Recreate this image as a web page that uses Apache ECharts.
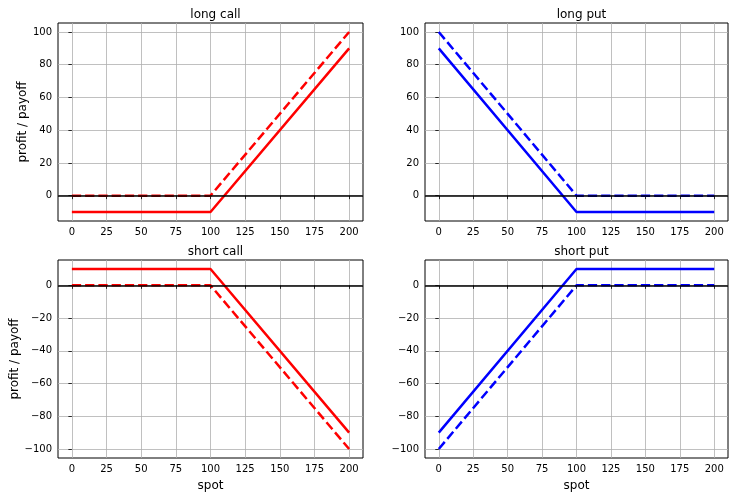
<!DOCTYPE html>
<html>
<head>
<meta charset="utf-8">
<script src="https://cdn.jsdelivr.net/npm/echarts@6/dist/echarts.min.js"></script>
<style>
  html, body { margin: 0; padding: 0; background: #fff; }
  #chart { width: 738px; height: 499px; }
</style>
</head>
<body>
<div id="chart"></div>
<script>
    // spot grid and payoff / profit per position (strike 100, premium 10)
    var spot = [0, 100, 200];
    var longCallPayoff = [0, 0, 100];
    var longCallProfit = [-10, -10, 90];
    var longPutPayoff = [100, 0, 0];
    var longPutProfit = [90, -10, -10];
    var shortCallPayoff = [0, 0, -100];
    var shortCallProfit = [10, 10, -90];
    var shortPutPayoff = [-100, 0, 0];
    var shortPutProfit = [-90, 10, 10];

    var xTicks = [0, 25, 50, 75, 100, 125, 150, 175, 200];
    var yTicksLong = [0, 20, 40, 60, 80, 100];
    var yTicksShort = [-100, -80, -60, -40, -20, 0];
    var titles = ['long call', 'long put', 'short call', 'short put'];

    var FONT = 'DejaVu Sans';
    var grids = [
        {left: 58, top: 23, width: 305, height: 198},
        {left: 425, top: 23, width: 303, height: 198},
        {left: 58, top: 260, width: 305, height: 198},
        {left: 425, top: 260, width: 303, height: 198}
    ];

    function pairs(ys) {
        return spot.map(function (x, i) { return [x, ys[i]]; });
    }

    function minus(v) {
        return String(v).replace('-', '\u2212');
    }

    var xAxes = [], yAxes = [], series = [], title = [];
    grids.forEach(function (g, k) {
        g.show = true;
        g.borderColor = '#000';
        g.borderWidth = 1;
        g.containLabel = false;
        var bottomRow = k >= 2;
        xAxes.push({
            type: 'value', gridIndex: k, min: -10, max: 210,
            name: bottomRow ? 'spot' : '', nameLocation: 'middle', nameGap: 22,
            nameTextStyle: {fontFamily: FONT, fontSize: 12, color: '#000'},
            axisLine: {show: false},
            axisTick: {show: true, inside: false, length: 3.5, customValues: xTicks, lineStyle: {color: '#000', width: 0.8}},
            axisLabel: {customValues: xTicks, margin: 6, fontFamily: FONT, fontSize: 10, color: '#000', formatter: minus},
            splitLine: {show: true, lineStyle: {color: '#b0b0b0', width: 0.8}}
        });
        var yt = bottomRow ? yTicksShort : yTicksLong;
        yAxes.push({
            type: 'value', gridIndex: k,
            min: bottomRow ? -105.5 : -15.5, max: bottomRow ? 15.5 : 105.5,
            name: (k % 2 === 0) ? 'profit / payoff' : '', nameLocation: 'middle', nameGap: 29,
            nameTextStyle: {fontFamily: FONT, fontSize: 12, color: '#000'},
            axisLine: {show: false},
            axisTick: {show: true, inside: false, length: 3.5, customValues: yt, lineStyle: {color: '#000', width: 0.8}},
            axisLabel: {customValues: yt, margin: 6, fontFamily: FONT, fontSize: 10, color: '#000', formatter: minus},
            splitLine: {show: true, lineStyle: {color: '#b0b0b0', width: 0.8}}
        });
        title.push({
            text: titles[k], left: g.left + g.width / 2, top: g.top - 19, textAlign: 'center',
            textStyle: {fontFamily: FONT, fontSize: 12, fontWeight: 'normal', color: '#000'}
        });
    });

    var sets = [
        [longCallPayoff, longCallProfit, '#ff0000'],
        [longPutPayoff, longPutProfit, '#0000ff'],
        [shortCallPayoff, shortCallProfit, '#ff0000'],
        [shortPutPayoff, shortPutProfit, '#0000ff']
    ];
    sets.forEach(function (s, k) {
        series.push({
            type: 'line', xAxisIndex: k, yAxisIndex: k, data: pairs(s[0]),
            symbol: 'none', silent: true, z: 3,
            lineStyle: {color: s[2], width: 2.5, type: [9.25, 4]}
        });
        series.push({
            type: 'line', xAxisIndex: k, yAxisIndex: k, data: pairs(s[1]),
            symbol: 'none', silent: true, z: 3,
            lineStyle: {color: s[2], width: 2.5}
        });
        // zero line across the whole axes
        series.push({
            type: 'line', xAxisIndex: k, yAxisIndex: k, data: [],
            symbol: 'none', silent: true, z: 5,
            markLine: {
                silent: true, symbol: 'none', label: {show: false},
                lineStyle: {color: '#000', width: 1.5, type: 'solid'},
                data: [{yAxis: 0}]
            }
        });
    });

    var myChart = echarts.init(document.getElementById('chart'));
    myChart.setOption({
        animation: false,
        title: title,
        grid: grids,
        xAxis: xAxes,
        yAxis: yAxes,
        series: series
    });
</script>
</body>
</html>
